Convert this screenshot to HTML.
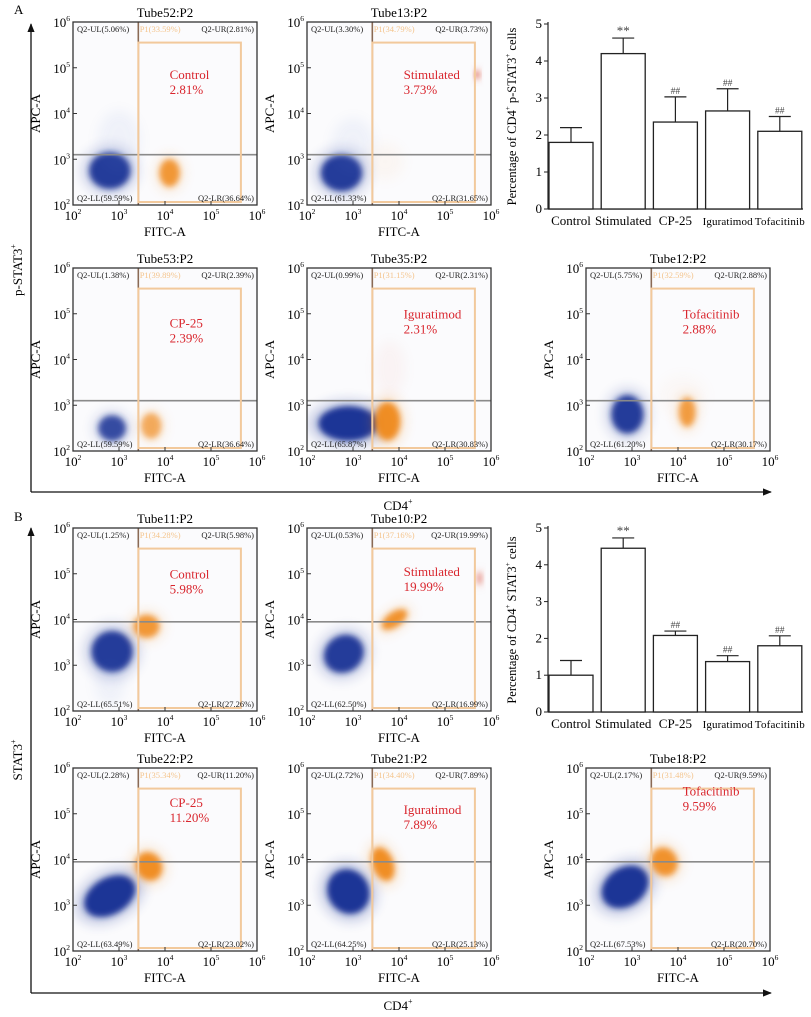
<!DOCTYPE html>
<html><head><meta charset="utf-8">
<style>
html,body{margin:0;padding:0;background:#fff}
svg{display:block;font-family:"Liberation Serif","Times New Roman",serif}
</style></head>
<body>
<svg id="fig" width="811" height="1017" viewBox="0 0 811 1017" xmlns="http://www.w3.org/2000/svg">
<defs>
<filter id="blur3" x="-50%" y="-50%" width="200%" height="200%"><feGaussianBlur stdDeviation="3"/></filter>
<filter id="blur6" x="-50%" y="-50%" width="200%" height="200%"><feGaussianBlur stdDeviation="6"/></filter>
<marker id="arr" viewBox="0 0 10 10" refX="9" refY="5" markerWidth="7" markerHeight="7" orient="auto"><path d="M0,1 L10,5 L0,9 z" fill="#111"/></marker>
</defs>
<g>
<text x="14" y="14" font-size="13">A</text>
<line x1="31" y1="492" x2="31" y2="24" stroke="#111" stroke-width="1.3" marker-end="url(#arr)"/>
<line x1="31" y1="492" x2="771" y2="492" stroke="#111" stroke-width="1.3" marker-end="url(#arr)"/>
<text transform="translate(22,270) rotate(-90)" text-anchor="middle" font-size="13">p-STAT3<tspan font-size="8" dy="-6">+</tspan></text>
<text x="398" y="510" text-anchor="middle" font-size="13">CD4<tspan font-size="8" dy="-6">+</tspan></text>
</g>
<g>
<text x="14" y="521" font-size="13">B</text>
<line x1="31" y1="993" x2="31" y2="528" stroke="#111" stroke-width="1.3" marker-end="url(#arr)"/>
<line x1="31" y1="993" x2="771" y2="993" stroke="#111" stroke-width="1.3" marker-end="url(#arr)"/>
<text transform="translate(22,760) rotate(-90)" text-anchor="middle" font-size="13">STAT3<tspan font-size="8" dy="-6">+</tspan></text>
<text x="398" y="1010" text-anchor="middle" font-size="13">CD4<tspan font-size="8" dy="-6">+</tspan></text>
</g>
</svg>
<script>
// ---- bar chart data ----
const barCategories = ["Control","Stimulated","CP-25","Iguratimod","Tofacitinib"];
const barValuesA = [1.8, 4.2, 2.35, 2.65, 2.1];
const barErrTopA = [2.2, 4.62, 3.03, 3.25, 2.5];
const barMarksA = ["", "**", "##", "##", "##"];
const barValuesB = [1.0, 4.45, 2.08, 1.37, 1.8];
const barErrTopB = [1.4, 4.73, 2.2, 1.53, 2.07];
const barMarksB = ["", "**", "##", "##", "##"];
const yTicks = [0,1,2,3,4,5];

// ---- flow panels ----
const panelTitles = ["Tube52:P2","Tube13:P2","Tube53:P2","Tube35:P2","Tube12:P2","Tube11:P2","Tube10:P2","Tube22:P2","Tube21:P2","Tube18:P2"];
const quadUL = ["5.06%","3.30%","1.38%","0.99%","5.75%","1.25%","0.53%","2.28%","2.72%","2.17%"];
const quadUR = ["2.81%","3.73%","2.39%","2.31%","2.88%","5.98%","19.99%","11.20%","7.89%","9.59%"];
const quadLL = ["59.59%","61.33%","59.59%","65.87%","61.20%","65.51%","62.50%","63.49%","64.25%","67.53%"];
const quadLR = ["36.64%","31.65%","36.64%","30.83%","30.17%","27.26%","16.99%","23.02%","25.13%","20.70%"];
const gateP1 = ["33.59%","34.79%","39.89%","31.15%","32.59%","34.28%","37.16%","35.34%","34.40%","31.48%"];
const groupNames = ["Control","Stimulated","CP-25","Iguratimod","Tofacitinib","Control","Stimulated","CP-25","Iguratimod","Tofacitinib"];
const quadHLine = [3.1,3.1,3.1,3.1,3.1,3.95,3.95,3.95,3.95,3.95];
// clusters: [panel, logFITC, logAPC, spreadX, spreadY, rotationDeg, kind, density]
const clusters = [
 [0,2.8,2.75,0.45,0.4,0,"b",1],[0,3.0,3.4,0.35,0.5,0,"bf",0.5],[0,4.1,2.7,0.22,0.3,0,"o",0.9],
 [1,2.75,2.7,0.45,0.4,0,"b",1],[1,3.0,3.3,0.35,0.45,0,"bf",0.5],[1,3.7,2.95,0.3,0.3,0,"of",0.5],[1,5.7,4.85,0.05,0.1,0,"r",0.8],
 [2,2.85,2.5,0.3,0.28,0,"b",0.9],[2,3.7,2.55,0.22,0.28,0,"o",0.7],
 [3,2.9,2.6,0.65,0.38,0,"b",1.1],[3,3.75,2.65,0.28,0.42,0,"o",1],[3,3.8,3.8,0.25,0.45,0,"rf",0.45],
 [4,2.9,2.8,0.35,0.42,0,"b",1],[4,4.2,2.85,0.18,0.32,0,"o",0.85],[4,4.1,3.2,0.4,0.35,0,"of",0.3],
 [5,2.85,3.3,0.45,0.45,0,"b",1],[5,3.6,3.85,0.28,0.25,0,"o",0.9],[5,2.8,2.6,0.25,0.35,0,"bf",0.5],
 [6,2.8,3.25,0.45,0.4,-35,"b",1],[6,3.9,4.0,0.32,0.16,-35,"o",0.95],[6,5.75,4.9,0.05,0.15,0,"r",0.6],
 [7,2.8,3.2,0.6,0.4,-30,"b",1.1],[7,3.65,3.85,0.28,0.32,-30,"o",1],
 [8,2.9,3.3,0.45,0.5,-30,"b",1.1],[8,3.65,3.9,0.23,0.38,-20,"o",1],
 [9,2.85,3.4,0.55,0.42,-35,"b",1.05],[9,3.7,3.95,0.28,0.32,-30,"o",0.95]
];
const layout = [
 [73,22],[307,22],[73,268],[307,268],[586,268],
 [73,528],[307,528],[73,768],[307,768],[586,768]
];
const labelLogY = [4.75,4.75,4.7,4.9,4.9,4.9,4.95,5.15,5.0,5.4];
const PW=184, PH=183;
const NS="http://www.w3.org/2000/svg";
const svg=document.getElementById('fig');
function mk(tag,attrs,parent){const e=document.createElementNS(NS,tag);for(const k in attrs)e.setAttribute(k,attrs[k]);(parent||svg).appendChild(e);return e;}
function pow10(parent,x,y,e,anchor){
  const t=mk('text',{x:x,y:y,'font-size':13,'text-anchor':anchor||'middle'},parent);
  t.textContent='10';
  const s=mk('tspan',{'font-size':7.5,dy:-6},t);s.textContent=String(e);
  
  
  return t;
}
const colors={b:"#1a3596",bf:"#5a78c8",o:"#f08a1e",of:"#f5b070",r:"#d8402a",rf:"#e58070"};
for(let i=0;i<panelTitles.length;i++){
  const [x0,y0]=layout[i];
  const g=mk('g',{});
  
  
  const sx=l=>x0+(l-2)/4*PW, sy=l=>y0+PH-(l-2)/4*PH;
  mk('rect',{x:x0,y:y0,width:PW,height:PH,fill:'#fbfbfd'},g);
  const cp=mk('clipPath',{id:'cp'+i},g);mk('rect',{x:x0,y:y0,width:PW,height:PH},cp);
  const cg=mk('g',{'clip-path':'url(#cp'+i+')'},g);
  clusters.filter(c=>c[0]===i).forEach(c=>{
    const [_,lx,ly,rx,ry,rot,kind,d]=c;
    const cx=sx(lx),cy=sy(ly),px=rx*PW/4,py=ry*PH/4;
    const col=colors[kind];
    const faint=kind.length>1;
    const halo=mk('ellipse',{cx:cx,cy:cy,rx:px*1.35,ry:py*1.35,fill:col,opacity:(faint?0.14:0.22)*d,filter:'url(#blur6)',transform:`rotate(${rot} ${cx} ${cy})`},cg);
    
    
    if(!faint){
      const core=mk('ellipse',{cx:cx,cy:cy,rx:px,ry:py,fill:col,opacity:Math.min(1,0.95*d),filter:'url(#blur3)',transform:`rotate(${rot} ${cx} ${cy})`},cg);
      
      
    }
  });
  mk('line',{x1:x0,x2:x0+PW,y1:sy(quadHLine[i]),y2:sy(quadHLine[i]),stroke:'#8a8a8a','stroke-width':1.6},g);
  mk('line',{x1:sx(3.42),x2:sx(3.42),y1:y0,y2:y0+PH,stroke:'#8a6a55','stroke-width':1.6},g);
  const gate=mk('rect',{x:sx(3.42),y:sy(5.55),width:sx(5.65)-sx(3.42),height:y0+PH-3-sy(5.55),fill:'none',stroke:'#f2c99c','stroke-width':2},g);
  
  
  mk('rect',{x:x0,y:y0,width:PW,height:PH,fill:'none',stroke:'#333','stroke-width':1.3},g);
  for(let e=2;e<=6;e++){
    mk('line',{x1:sx(e),x2:sx(e),y1:y0+PH,y2:y0+PH-4,stroke:'#333'},g);
    mk('line',{x1:x0,x2:x0+4,y1:sy(e),y2:sy(e),stroke:'#333'},g);
    pow10(g,sx(e),y0+PH+15,e);
    pow10(g,x0-3,sy(e)+5,e,'end');
  }
  const q=(txt,x,y,a,nm)=>{const t=mk('text',{x:x,y:y,'font-size':8.5,'text-anchor':a,fill:'#222'},g);t.textContent=txt;};
  q('Q2-UL('+quadUL[i]+')',x0+4,y0+10,'start','quadrant-ul-label');
  q('Q2-UR('+quadUR[i]+')',x0+PW-3,y0+10,'end','quadrant-ur-label');
  q('Q2-LL('+quadLL[i]+')',x0+4,y0+PH-4,'start','quadrant-ll-label');
  q('Q2-LR('+quadLR[i]+')',x0+PW-3,y0+PH-4,'end','quadrant-lr-label');
  const p1=mk('text',{x:sx(3.45),y:y0+10,'font-size':8.5,fill:'#f4c48c'},g);p1.textContent='P1('+gateP1[i]+')';
  
  
  const gn=mk('text',{x:sx(4.1),y:sy(labelLogY[i]),'font-size':13,fill:'#d9262e'},g);gn.textContent=groupNames[i];
  
  
  const gp=mk('text',{x:sx(4.1),y:sy(labelLogY[i])+15,'font-size':13,fill:'#d9262e'},g);gp.textContent=quadUR[i];
  
  
  const tt=mk('text',{x:x0+PW/2,y:y0-5,'font-size':13,'text-anchor':'middle'},g);tt.textContent=panelTitles[i];
  
  
  const xl=mk('text',{x:x0+PW/2,y:y0+PH+31,'font-size':13,'text-anchor':'middle'},g);xl.textContent='FITC-A';
  
  
  const yl=mk('text',{transform:`translate(${x0-33},${y0+PH/2}) rotate(-90)`,'font-size':13,'text-anchor':'middle'},g);yl.textContent='APC-A';
  
  
}
function barChart(vals,errs,marks,ax,y0,y5,labelText,name){
  const g=mk('g',{});
  
  
  const yS=v=>y0-(v/5)*(y0-y5);
  const xL=i=>ax+1+i*52.2, bw=44;
  mk('line',{x1:ax,x2:ax,y1:y0,y2:y5-2,stroke:'#222','stroke-width':1.2},g);
  mk('line',{x1:ax,x2:803,y1:y0,y2:y0,stroke:'#222','stroke-width':1.2},g);
  yTicks.forEach(v=>{
    mk('line',{x1:ax-4,x2:ax,y1:yS(v),y2:yS(v),stroke:'#222'},g);
    const t=mk('text',{x:ax-6,y:yS(v)+4,'font-size':13,'text-anchor':'end'},g);t.textContent=v;
    
    
  });
  vals.forEach((v,i)=>{
    const cx=xL(i)+bw/2;
    mk('line',{x1:cx,x2:cx,y1:yS(v),y2:yS(errs[i]),stroke:'#222','stroke-width':1.2},g);
    mk('line',{x1:cx-11,x2:cx+11,y1:yS(errs[i]),y2:yS(errs[i]),stroke:'#222','stroke-width':1.2},g);
    const r=mk('rect',{x:xL(i),y:yS(v),width:bw,height:y0-yS(v),fill:'#fff',stroke:'#222','stroke-width':1.3},g);
    
    
    if(marks[i]){const m=mk('text',{x:cx,y:yS(errs[i])-3,'font-size':marks[i]==='**'?13:9.5,'text-anchor':'middle',fill:'#444'},g);m.textContent=marks[i];
      
      }
    const small=i>=3;
    const c=mk('text',{x:cx,y:y0+16,'font-size':small?11:13,'text-anchor':'middle'},g);c.textContent=barCategories[i];
    if(small)c.setAttribute('textLength',50);
    
    
  });
  const yl=mk('text',{transform:`translate(${ax-32},${(y0+y5)/2}) rotate(-90)`,'font-size':12.5,'text-anchor':'middle'},g);
  yl.innerHTML='Percentage of CD4<tspan font-size="7" dy="-6">+</tspan><tspan dy="6"> '+labelText+'</tspan><tspan font-size="7" dy="-6">+</tspan><tspan dy="6"> cells</tspan>';
  
  
}
barChart(barValuesA,barErrTopA,barMarksA,548,209,24,'p-STAT3','bar-chart-a');
barChart(barValuesB,barErrTopB,barMarksB,548,712,528,'STAT3','bar-chart-b');
</script>
</body></html>
